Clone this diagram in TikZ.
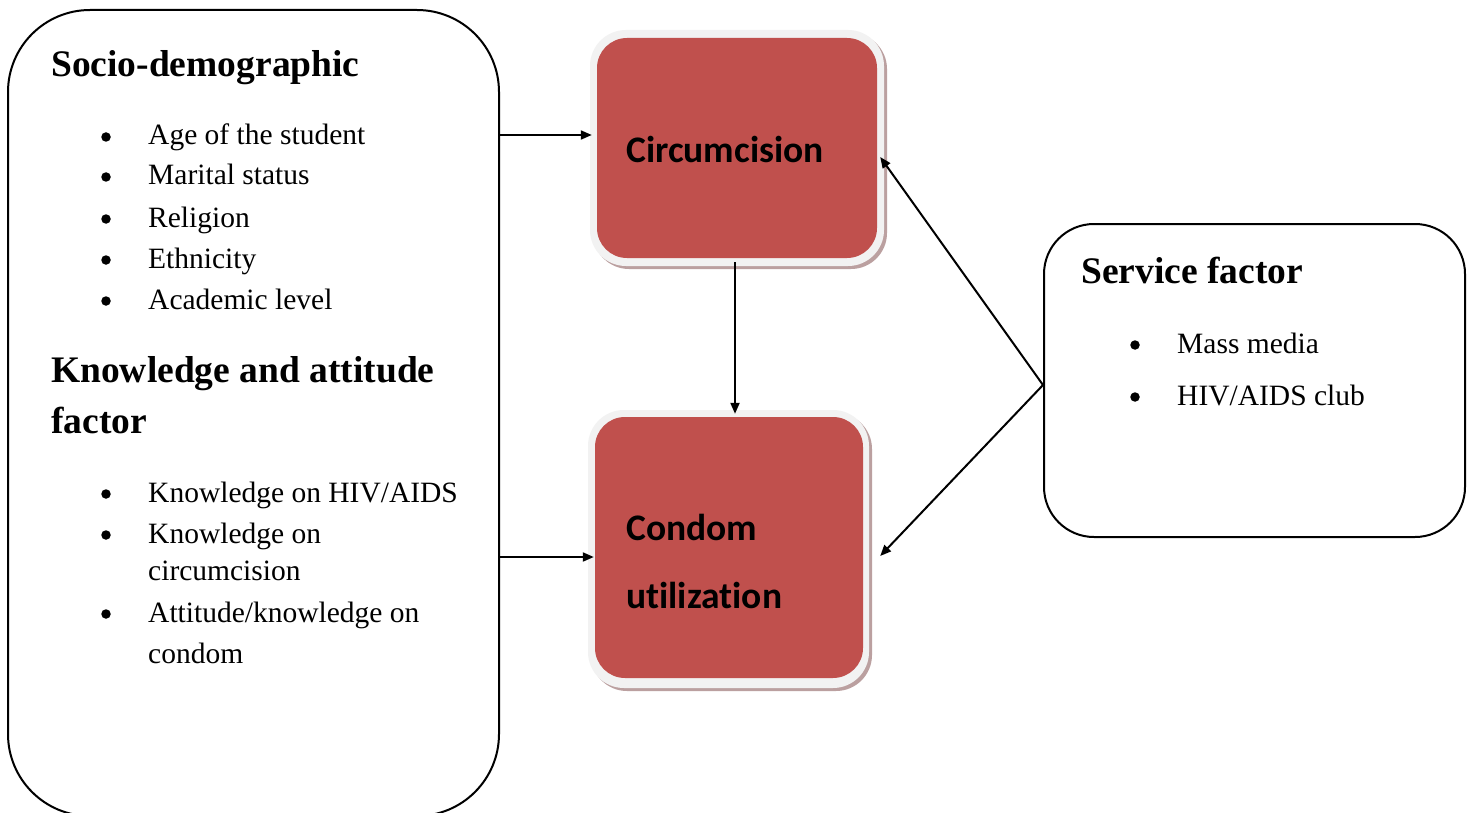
\documentclass[tikz,border=0pt]{standalone}
\usepackage{fontspec}
\setmainfont{Liberation Serif}
\newfontfamily\calibrifont[Ligatures=NoCommon]{Carlito}
\usetikzlibrary{arrows.meta}
\definecolor{boxred}{HTML}{C0504D}
\definecolor{rimgrey}{HTML}{F2F2F2}
\definecolor{shadowc}{HTML}{BBA0A0}
\begin{document}
\begin{tikzpicture}[x=1pt,y=-1pt,
  outline/.style={draw=black,line width=2pt,rectangle,inner sep=0pt},
  rim/.style={fill=rimgrey,rectangle,inner sep=0pt,rounded corners=36pt},
  shade/.style={fill=shadowc,rectangle,inner sep=0pt,rounded corners=36pt},
  core/.style={fill=boxred,rectangle,inner sep=0pt,rounded corners=30pt},
  head/.style={inner sep=0pt,anchor=base west,font=\fontsize{37.5}{44}\selectfont\bfseries},
  item/.style={inner sep=0pt,anchor=base west,font=\fontsize{29.5}{35}\selectfont},
  bul/.style={circle,fill=black,inner sep=0pt,minimum size=9.5pt},
  redtxt/.style={inner sep=0pt,anchor=base west,font=\fontsize{37.5}{42}\selectfont\calibrifont\bfseries},
  arr/.style={line width=2pt,-{Triangle[length=11pt,width=9pt]}}]
\useasboundingbox (0,0) rectangle (1469,813);
\fill[white] (0,0) rectangle (1469,813);

% left box
\node[outline,rounded corners=82pt,minimum width=491pt,minimum height=806pt] (soc) at (253.5,413) {};
\node[head] (t1) at (51,77) {Socio-demographic};
\foreach \y/\t [count=\i] in {145/{Age of the student},185/{Marital status},227/{Religion},268/{Ethnicity},309/{Academic level}}{
  \node[bul] (b\i) at (106,\y-8) {};
  \node[item] (i\i) at (148,\y) {\t};
}
\node[head] (t2) at (51,382) {Knowledge and attitude};
\node[head] (t3) at (51,433) {factor};
\foreach \y/\t [count=\i] in {502/{Knowledge on HIV/AIDS},543/{Knowledge on},622/{Attitude/knowledge on}}{
  \node[bul] (kb\i) at (106,\y-8) {};
  \node[item] (k\i) at (148,\y) {\t};
}
\node[item] (k4) at (148,580) {circumcision};
\node[item] (k5) at (148,663) {condom};

% circumcision box
\node[shade,minimum width=294pt,minimum height=236pt] (circsh) at (740,151) {};
\node[rim,minimum width=294pt,minimum height=236pt] (circ) at (737,148) {};
\node[core,minimum width=280pt,minimum height=220pt] (circin) at (737,148) {};
\node[redtxt] (ct) at (626,163) {Circumcision};

% condom box
\node[shade,minimum width=281pt,minimum height=278pt] (condsh) at (731.5,552) {};
\node[rim,minimum width=281pt,minimum height=278pt] (cond) at (728.5,549) {};
\node[core,minimum width=268pt,minimum height=261pt] (condin) at (729,547.5) {};
\node[redtxt] (cd1) at (626,540) {Condom};
\node[redtxt] (cd2) at (626,608) {utilization};

% service box
\node[outline,rounded corners=50pt,minimum width=421pt,minimum height=313pt] (serv) at (1254.5,380.5) {};
\node[head] (st) at (1081,283) {Service factor};
\node[bul] (sb1) at (1135,345) {};
\node[item] (s1) at (1177,353) {Mass media};
\node[bul] (sb2) at (1135,397) {};
\node[item] (s2) at (1177,405) {HIV/AIDS club};

% connectors
\coordinate (sv) at ([yshift=-4.5pt]serv.west);
\draw[arr] (soc.east |- 0,135) -- ([xshift=2pt]circ.west |- 0,135);
\draw[arr] (soc.east |- 0,557) -- ([xshift=6pt]cond.west |- 0,557);
\draw[arr] ([xshift=-2pt,yshift=-4pt]circin.south) -- ([xshift=-2pt,yshift=-4pt]circin.south |- cond.north);
\draw[arr] (sv) -- ([xshift=-4pt,yshift=-9pt]circ.east);
\draw[arr] (sv) -- ([xshift=11pt,yshift=-7pt]cond.east);
\end{tikzpicture}
\end{document}
